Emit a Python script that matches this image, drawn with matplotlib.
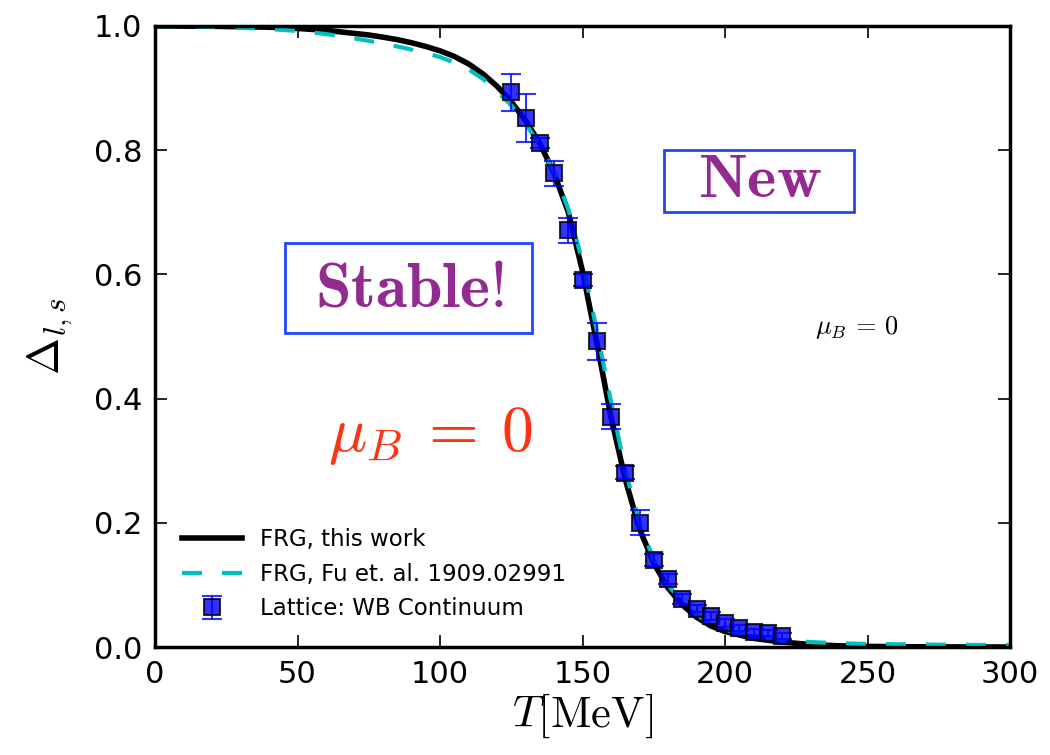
import numpy as np
import matplotlib
matplotlib.use("Agg")
import matplotlib.pyplot as plt
from matplotlib.patches import Rectangle

plt.rcParams["mathtext.fontset"] = "cm"
plt.rcParams["font.family"] = ["DejaVu Sans"]

# FRG, this work
T_frg = [0, 20, 40, 50, 60, 70, 75, 80, 85, 90, 95, 100, 105, 110, 115, 120,
         125, 130, 135, 140, 145, 150, 155, 160, 165, 170, 175, 180, 185,
         190, 195, 200, 210, 220, 230, 240, 250, 270, 300]
D_frg = [1.000, 0.9995, 0.998, 0.996, 0.993, 0.988, 0.9855, 0.982, 0.978,
         0.973, 0.967, 0.960, 0.951, 0.939, 0.923, 0.903, 0.878, 0.848,
         0.811, 0.763, 0.700, 0.605, 0.490, 0.370, 0.270, 0.190, 0.135,
         0.095, 0.068, 0.048, 0.034, 0.025, 0.014, 0.008, 0.004, 0.002,
         0.001, 0.0003, 0.0001]

# FRG, Fu et al.
T_fu = [0, 20, 40, 50, 60, 70, 80, 90, 100, 105, 110, 115, 120, 125, 130,
        135, 140, 145, 150, 155, 160, 165, 170, 175, 180, 185, 190, 195,
        200, 210, 220, 230, 240, 250, 270, 300]
D_fu = [1.000, 0.999, 0.995, 0.992, 0.987, 0.980, 0.972, 0.962, 0.950,
        0.941, 0.930, 0.915, 0.895, 0.872, 0.843, 0.808, 0.765, 0.705,
        0.620, 0.510, 0.395, 0.285, 0.200, 0.140, 0.100, 0.072, 0.052,
        0.038, 0.028, 0.017, 0.011, 0.008, 0.006, 0.005, 0.004, 0.003]

# Lattice: WB continuum
T_lat = [125, 130, 135, 140, 145, 150, 155, 160, 165, 170, 175, 180, 185,
         190, 195, 200, 205, 210, 215, 220]
D_lat = [0.893, 0.852, 0.812, 0.763, 0.671, 0.591, 0.492, 0.371, 0.281,
         0.200, 0.140, 0.109, 0.078, 0.062, 0.050, 0.039, 0.031, 0.024,
         0.022, 0.018]
E_lat = [0.030, 0.039, 0.008, 0.020, 0.020, 0.010, 0.030, 0.020, 0.010,
         0.020, 0.010, 0.008, 0.008, 0.006, 0.006, 0.006, 0.005, 0.005,
         0.005, 0.005]

fig = plt.figure(figsize=(10.5, 7.55), dpi=100)
ax = fig.add_axes([0.1476, 0.143, 0.8144, 0.8226])

ax.plot(T_frg, D_frg, color="k", lw=4, label="FRG, this work")
ax.plot(T_fu, D_fu, color="c", lw=3, ls=(0, (4.8, 4.8)),
        label="FRG, Fu et. al. 1909.02991")
ax.errorbar(T_lat, D_lat, yerr=E_lat, fmt="s", color="b", mec="k", mew=1.5,
            ms=12, capsize=7, elinewidth=1.5, capthick=1.5, alpha=0.8,
            label="Lattice: WB Continuum")

ax.set_xlim(0, 300)
ax.set_ylim(0, 1.0)
ax.set_xticks([0, 50, 100, 150, 200, 250, 300])
ax.set_yticks([0.0, 0.2, 0.4, 0.6, 0.8, 1.0])
ax.tick_params(direction="in", length=8.5, width=1.2, top=True, right=True,
               labelsize=22, pad=9)
for s in ax.spines.values():
    s.set_linewidth(2.5)

ax.set_xlabel(r"$T[\mathrm{MeV}]$", fontsize=32, labelpad=2)
ax.set_ylabel(r"$\Delta_{l,s}$", fontsize=32, labelpad=14)

# framed labels
for x0, y0, w, h in [(0.152, 0.506, 0.289, 0.145), (0.595, 0.700, 0.223, 0.100)]:
    ax.add_patch(Rectangle((x0, y0), w, h, transform=ax.transAxes,
                           fill=False, ec="#2244ff", lw=2, zorder=5))
ax.text(0.297, 0.578, r"$\mathbf{Stable!}$", color="#922b8f", fontsize=46,
        ha="center", va="center", transform=ax.transAxes)
ax.text(0.707, 0.752, r"$\mathbf{New}$", color="#922b8f", fontsize=45,
        ha="center", va="center", transform=ax.transAxes)
ax.text(246, 0.515, r"$\mu_B\,=\,0$", color="k", fontsize=19,
        ha="center", va="center")
ax.text(96.5, 0.34, r"$\mu_B\:=\:0$", color="#ff3311", fontsize=46,
        ha="center", va="center")

ax.legend(loc="lower left", bbox_to_anchor=(0.008, 0.01), frameon=False,
          fontsize=16.5, numpoints=1, handlelength=2.6, labelspacing=0.5)

fig.savefig("out.png", dpi=100)
